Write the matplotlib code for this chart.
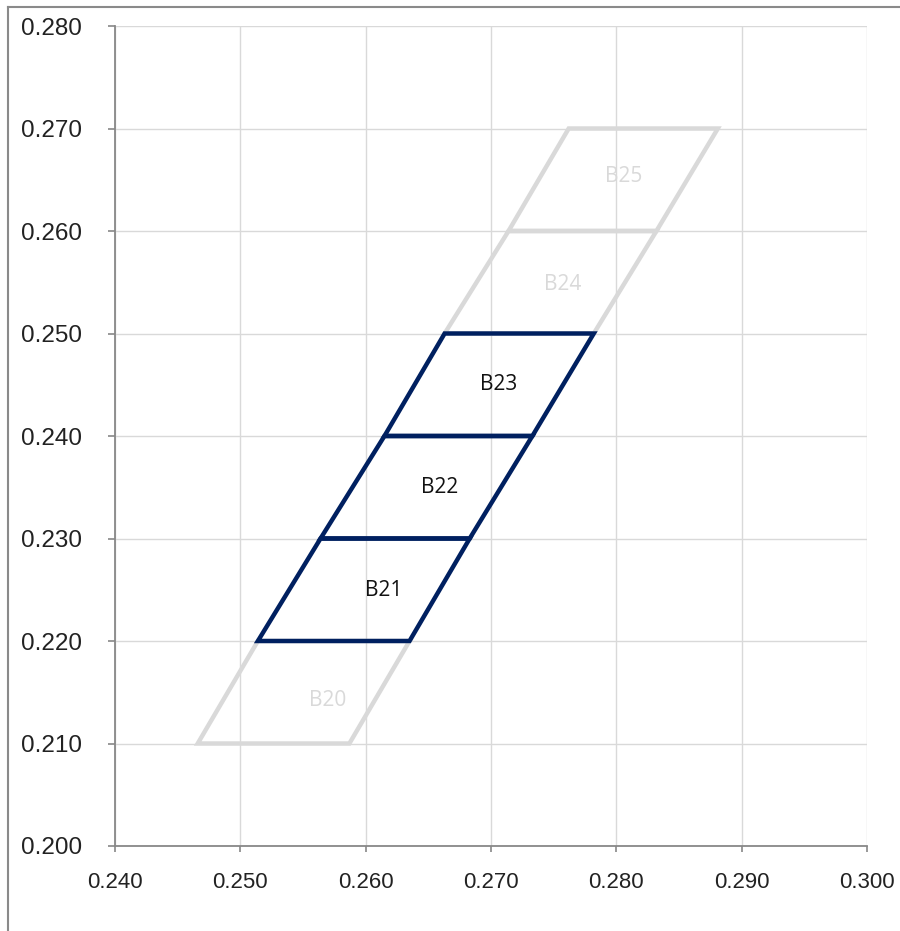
import matplotlib.pyplot as plt
from matplotlib.lines import Line2D
from matplotlib.patches import Polygon

# chromaticity bins: v edges, left/right u at each edge
v_edges = [0.210, 0.220, 0.230, 0.240, 0.250, 0.260, 0.270]
u_left = [0.2466, 0.2514, 0.2564, 0.2615, 0.2663, 0.2714, 0.2762]
u_right = [0.2587, 0.2635, 0.2683, 0.2733, 0.2782, 0.2832, 0.2881]
bin_names = ['B20', 'B21', 'B22', 'B23', 'B24', 'B25']
highlight = ['B21', 'B22', 'B23']
label_u = [0.2570, 0.2614, 0.2659, 0.2706, 0.2757, 0.2806]
label_v = [0.2142, 0.2249, 0.2350, 0.2450, 0.2548, 0.2653]

x_ticks = [0.240, 0.250, 0.260, 0.270, 0.280, 0.290, 0.300]
y_ticks = [0.200, 0.210, 0.220, 0.230, 0.240, 0.250, 0.260, 0.270, 0.280]

navy = '#002060'
light = '#d9d9d9'

fig = plt.figure(figsize=(9, 9.31), dpi=100)
ax = fig.add_axes([115 / 900, 85 / 931, 752 / 900, 820 / 931])

ax.set_xlim(0.240, 0.300)
ax.set_ylim(0.200, 0.280)
ax.set_xticks(x_ticks)
ax.set_yticks(y_ticks)
ax.set_xticklabels(['%.3f' % t for t in x_ticks])
ax.set_yticklabels(['%.3f' % t for t in y_ticks])
ax.grid(True, color=light, linewidth=1.0)
ax.set_axisbelow(True)

for s in ['top', 'right']:
    ax.spines[s].set_visible(False)
for s in ['left', 'bottom']:
    ax.spines[s].set_color('#888888')
    ax.spines[s].set_linewidth(1.3)

ax.tick_params(axis='y', length=5, width=1.2, color='#888888', pad=19,
               labelsize=17.5, labelcolor='#222222')
ax.tick_params(axis='x', length=4, width=1.2, color='#888888', pad=15,
               labelsize=16, labelcolor='#222222')
for lab in ax.get_xticklabels() + ax.get_yticklabels():
    lab.set_fontfamily('Liberation Sans')

# gray bins first, highlighted ones on top
order = [i for i, n in enumerate(bin_names) if n not in highlight] + \
        [i for i, n in enumerate(bin_names) if n in highlight]
for i in order:
    name = bin_names[i]
    pts = [(u_left[i], v_edges[i]), (u_right[i], v_edges[i]),
           (u_right[i + 1], v_edges[i + 1]), (u_left[i + 1], v_edges[i + 1])]
    hl = name in highlight
    ax.add_patch(Polygon(pts, closed=True, fill=False,
                         edgecolor=navy if hl else light, linewidth=3.2,
                         joinstyle='miter', zorder=4 if hl else 3))
    ax.text(label_u[i], label_v[i], name, ha='center', va='center',
            fontsize=15, family='Open Sans',
            color='#111111' if hl else light, zorder=5)

# outer frame (top and left only)
fig.add_artist(Line2D([8 / 900, 1.0], [1 - 7 / 931, 1 - 7 / 931],
                      color='#8a8a8a', linewidth=1.5))
fig.add_artist(Line2D([8 / 900, 8 / 900], [0, 1 - 7 / 931],
                      color='#8a8a8a', linewidth=1.5))

fig.savefig('out.png', dpi=100)
